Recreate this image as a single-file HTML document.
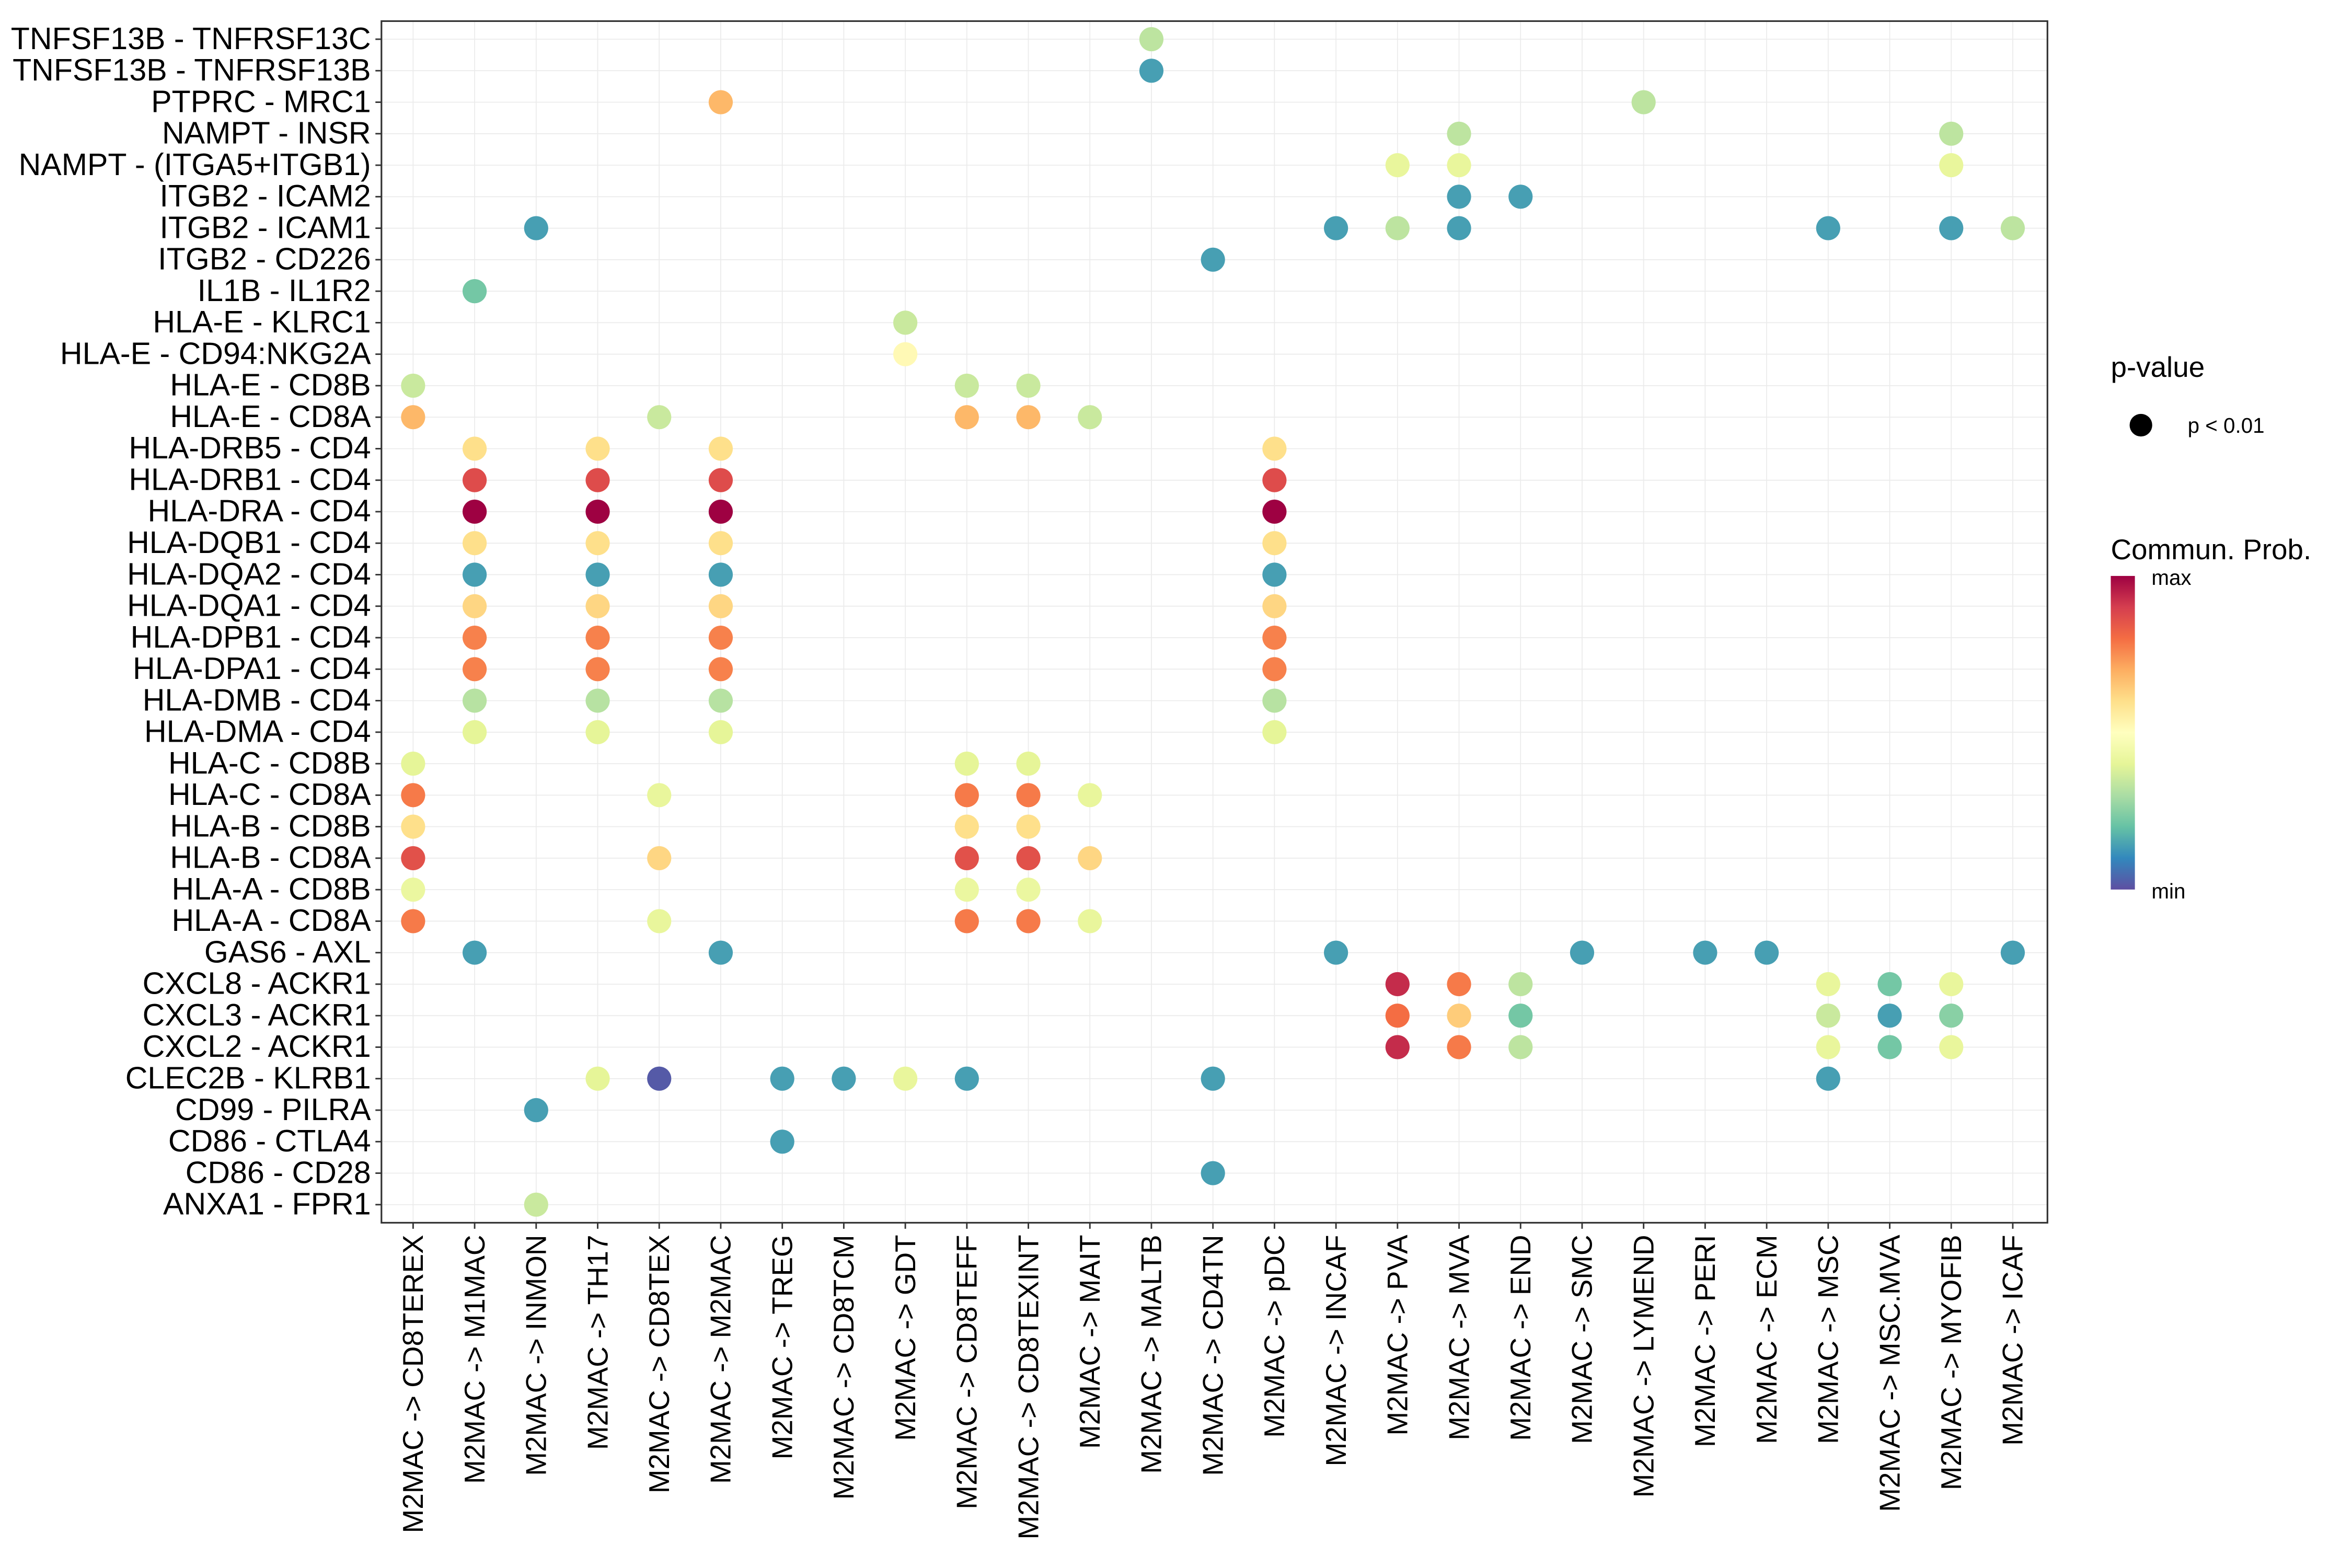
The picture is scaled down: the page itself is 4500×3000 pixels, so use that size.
<!DOCTYPE html>
<html><head><meta charset="utf-8"><style>
html,body{margin:0;padding:0;background:#fff;}
svg{display:block;font-family:"Liberation Sans",Arial,sans-serif;}
</style></head><body>
<svg id="chart" width="4500" height="3000" viewBox="0 0 1560 1040" xmlns="http://www.w3.org/2000/svg">
<defs>
<linearGradient id="spec" x1="0" y1="1" x2="0" y2="0">
<stop offset="0" stop-color="#5E4FA2"/><stop offset="0.1" stop-color="#3288BD"/><stop offset="0.2" stop-color="#66C2A5"/><stop offset="0.3" stop-color="#ABDDA4"/><stop offset="0.4" stop-color="#E6F598"/><stop offset="0.5" stop-color="#FFFFBF"/><stop offset="0.6" stop-color="#FEE08B"/><stop offset="0.7" stop-color="#FDAE61"/><stop offset="0.8" stop-color="#F46D43"/><stop offset="0.9" stop-color="#D53E4F"/><stop offset="1" stop-color="#9E0142"/>
</linearGradient>
</defs>
<rect x="253" y="14" width="1105" height="797" fill="#fff"/>
<g id="grid"></g>
<g id="dots"></g>
<rect x="253" y="14" width="1105" height="797" fill="none" stroke="#333" stroke-width="1.1"/>
<g id="ylabels"></g>
<g id="xlabels"></g>
<g>
<text x="1400" y="250" font-size="19">p-value</text>
<circle cx="1420" cy="282" r="7.5" fill="#000"/>
<text x="1451" y="287" font-size="14">p &lt; 0.01</text>
<text x="1400" y="371" font-size="19">Commun. Prob.</text>
<rect x="1400" y="382" width="16" height="208" fill="url(#spec)"/>
<text x="1427" y="388" font-size="14">max</text>
<text x="1427" y="596" font-size="14">min</text>
</g>
</svg>
<script>
const rowLabels = ["TNFSF13B - TNFRSF13C","TNFSF13B - TNFRSF13B","PTPRC - MRC1","NAMPT - INSR","NAMPT - (ITGA5+ITGB1)","ITGB2 - ICAM2","ITGB2 - ICAM1","ITGB2 - CD226","IL1B - IL1R2","HLA-E - KLRC1","HLA-E - CD94:NKG2A","HLA-E - CD8B","HLA-E - CD8A","HLA-DRB5 - CD4","HLA-DRB1 - CD4","HLA-DRA - CD4","HLA-DQB1 - CD4","HLA-DQA2 - CD4","HLA-DQA1 - CD4","HLA-DPB1 - CD4","HLA-DPA1 - CD4","HLA-DMB - CD4","HLA-DMA - CD4","HLA-C - CD8B","HLA-C - CD8A","HLA-B - CD8B","HLA-B - CD8A","HLA-A - CD8B","HLA-A - CD8A","GAS6 - AXL","CXCL8 - ACKR1","CXCL3 - ACKR1","CXCL2 - ACKR1","CLEC2B - KLRB1","CD99 - PILRA","CD86 - CTLA4","CD86 - CD28","ANXA1 - FPR1"];
const colLabels = ["CD8TEREX","M1MAC","INMON","TH17","CD8TEX","M2MAC","TREG","CD8TCM","GDT","CD8TEFF","CD8TEXINT","MAIT","MALTB","CD4TN","pDC","INCAF","PVA","MVA","END","SMC","LYMEND","PERI","ECM","MSC","MSC.MVA","MYOFIB","ICAF"].map(s=>"M2MAC -> "+s);
const dotRows = [0,1,2,2,3,3,4,4,4,5,5,6,6,6,6,6,6,6,7,8,9,10,11,11,11,12,12,12,12,12,
13,13,13,13,14,14,14,14,15,15,15,15,16,16,16,16,17,17,17,17,18,18,18,18,19,19,19,19,20,20,20,20,21,21,21,21,22,22,22,22,
23,23,23,24,24,24,24,24,25,25,25,26,26,26,26,26,27,27,27,28,28,28,28,28,
29,29,29,29,29,29,29,30,30,30,30,30,30,31,31,31,31,31,31,32,32,32,32,32,32,
33,33,33,33,33,33,33,33,34,35,36,37];
const dotCols = [12,12,5,20,17,25,16,17,25,17,18,2,15,16,17,23,25,26,13,1,8,8,0,9,10,0,4,9,10,11,
1,3,5,14,1,3,5,14,1,3,5,14,1,3,5,14,1,3,5,14,1,3,5,14,1,3,5,14,1,3,5,14,1,3,5,14,1,3,5,14,
0,9,10,0,4,9,10,11,0,9,10,0,4,9,10,11,0,9,10,0,4,9,10,11,
1,5,15,19,21,22,26,16,17,18,23,24,25,16,17,18,23,24,25,16,17,18,23,24,25,
3,4,6,7,8,9,13,23,2,6,13,2];
const dotVals = [0.33,0.14,0.68,0.33,0.33,0.33,0.41,0.41,0.41,0.14,0.14,0.14,0.14,0.33,0.14,0.14,0.14,0.33,0.14,0.22,0.35,0.52,0.35,0.35,0.35,0.68,0.35,0.68,0.68,0.35,
0.6,0.6,0.6,0.6,0.87,0.87,0.87,0.87,1,1,1,1,0.6,0.6,0.6,0.6,0.14,0.14,0.14,0.14,0.62,0.62,0.62,0.62,0.77,0.77,0.77,0.77,0.77,0.77,0.77,0.77,0.32,0.32,0.32,0.32,0.4,0.4,0.4,0.4,
0.4,0.4,0.4,0.78,0.41,0.78,0.78,0.41,0.6,0.6,0.6,0.86,0.62,0.86,0.86,0.62,0.42,0.42,0.42,0.78,0.41,0.78,0.78,0.41,
0.14,0.14,0.14,0.14,0.14,0.14,0.14,0.93,0.78,0.33,0.41,0.22,0.41,0.8,0.64,0.22,0.35,0.14,0.25,0.93,0.78,0.33,0.41,0.22,0.41,
0.4,0.02,0.14,0.14,0.41,0.14,0.14,0.14,0.14,0.14,0.14,0.35];

const NS="http://www.w3.org/2000/svg";
const x0=274, dx=(1335-274)/26, y0=26, dy=(799-26)/37;
const xPos=i=>x0+i*dx, yPos=i=>y0+i*dy;
const stops=["#5E4FA2","#3288BD","#66C2A5","#ABDDA4","#E6F598","#FFFFBF","#FEE08B","#FDAE61","#F46D43","#D53E4F","#9E0142"];
function hex(c){return [1,3,5].map(k=>parseInt(c.substr(k,2),16));}
function color(v){const t=Math.max(0,Math.min(1,v))*10;const i=Math.min(9,Math.floor(t));const f=t-i;const a=hex(stops[i]),b=hex(stops[i+1]);return "rgb("+a.map((c,k)=>Math.round(c+(b[k]-c)*f)).join(",")+")";}
function mk(tag,attrs,parent){const e=document.createElementNS(NS,tag);for(const k in attrs)e.setAttribute(k,attrs[k]);parent.appendChild(e);return e;}
const grid=document.getElementById("grid"), dots=document.getElementById("dots"), yl=document.getElementById("ylabels"), xl=document.getElementById("xlabels");
rowLabels.forEach((lab,i)=>{
  const g=mk("line",{x1:253,x2:1358,y1:yPos(i),y2:yPos(i),stroke:"#EBEBEB","stroke-width":0.6},grid);
  
  
  const t=mk("text",{x:246,y:yPos(i)+6.5,"text-anchor":"end","font-size":20.5,fill:"#000"},yl);
  t.textContent=lab;
  
  
  const tk=mk("line",{x1:249,x2:253,y1:yPos(i),y2:yPos(i),stroke:"#333","stroke-width":1},yl);
  
  
});
colLabels.forEach((lab,i)=>{
  const g=mk("line",{x1:xPos(i),x2:xPos(i),y1:14,y2:811,stroke:"#EBEBEB","stroke-width":0.6},grid);
  
  
  const tk=mk("line",{x1:xPos(i),x2:xPos(i),y1:811,y2:815,stroke:"#333","stroke-width":1},xl);
  
  
  const t=mk("text",{x:0,y:0,"text-anchor":"end","font-size":19,fill:"#000",transform:"translate("+(xPos(i)+6.5)+",819) rotate(-90)"},xl);
  t.textContent=lab;
  
  
});
dotVals.forEach((v,k)=>{
  const c=mk("circle",{cx:xPos(dotCols[k]),cy:yPos(dotRows[k]),r:8,fill:color(v)},dots);
  
  
});
</script>
</body></html>
